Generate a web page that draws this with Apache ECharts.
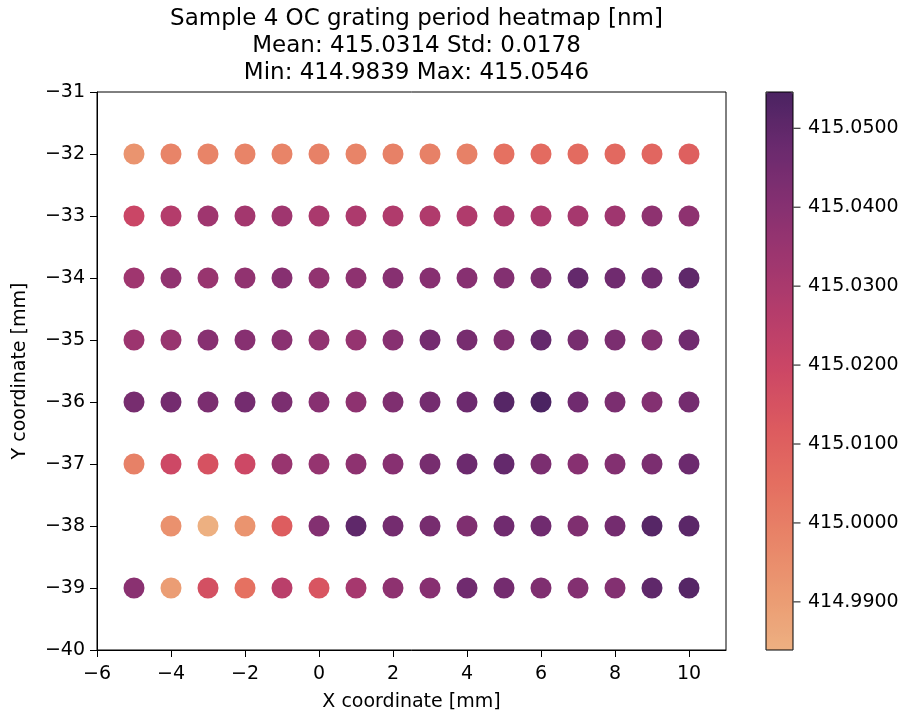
<!DOCTYPE html>
<html>
<head>
<meta charset="utf-8">
<script src="https://cdn.jsdelivr.net/npm/echarts@6/dist/echarts.min.js"></script>
<style>html,body{margin:0;padding:0;background:#fff}#chart{width:907px;height:717px}</style>
</head>
<body>
<div id="chart"></div>
<script>
const xCoords = [-5,-4,-3,-2,-1,0,1,2,3,4,5,6,7,8,9,10];
const yCoords = [-32,-33,-34,-35,-36,-37,-38,-39];
const periodY32 = [414.993,414.998,414.998,414.998,414.998,414.999,414.998,414.999,414.999,414.999,415.004,415.006,415.006,415.007,415.008,415.010];
const periodY33 = [415.020,415.027,415.033,415.032,415.033,415.030,415.029,415.028,415.028,415.028,415.030,415.029,415.031,415.033,415.038,415.038];
const periodY34 = [415.033,415.037,415.035,415.037,415.040,415.037,415.038,415.040,415.040,415.040,415.041,415.043,415.049,415.046,415.046,415.050];
const periodY35 = [415.034,415.035,415.040,415.040,415.039,415.037,415.036,415.040,415.045,415.044,415.042,415.049,415.044,415.043,415.041,415.046];
const periodY36 = [415.044,415.045,415.043,415.045,415.043,415.040,415.038,415.042,415.045,415.047,415.052,415.0546,415.046,415.043,415.041,415.045];
const periodY37 = [414.999,415.019,415.015,415.019,415.035,415.036,415.038,415.040,415.044,415.047,415.049,415.043,415.040,415.041,415.043,415.047];
const periodY38 = [null,414.994,414.9839,414.993,415.011,415.041,415.050,415.045,415.044,415.042,415.046,415.046,415.042,415.045,415.052,415.051];
const periodY39 = [415.039,414.990,415.016,415.004,415.025,415.014,415.031,415.038,415.040,415.046,415.045,415.042,415.041,415.041,415.050,415.052];
const periodRows = [periodY32,periodY33,periodY34,periodY35,periodY36,periodY37,periodY38,periodY39];
const colorbarTicks = [414.99,415.00,415.01,415.02,415.03,415.04,415.05];
const vMin = 414.9839, vMax = 415.0546;
const flareColors = ['#edb081','#eb9a72','#e88468','#e46e60','#dc5a5f','#cc4765','#b63d6b','#9e366f','#853071','#6a2a6e','#4b2362'];

const points = [];
periodRows.forEach((row, i) => {
  row.forEach((v, j) => {
    if (v !== null) points.push([xCoords[j], yCoords[i], v]);
  });
});
const tickMarks = colorbarTicks.map(v => [1, v]);

const FONT = 'DejaVu Sans';
const chart = echarts.init(document.getElementById('chart'), null, {renderer: 'canvas'});
chart.setOption({
  animation: false,
  backgroundColor: '#fff',
  textStyle: {fontFamily: FONT},
  title: {
    text: 'Sample 4 OC grating period heatmap [nm]\nMean: 415.0314 Std: 0.0178\nMin: 414.9839 Max: 415.0546',
    left: 411.5, top: 1, textAlign: 'center',
    textStyle: {fontFamily: FONT, fontSize: 23, fontWeight: 'normal', color: '#000', lineHeight: 27}
  },
  grid: [
    {left: 97, top: 92, width: 629, height: 559, show: true, borderColor: '#000', borderWidth: 1, backgroundColor: 'transparent'},
    {left: 766, top: 92, width: 27, height: 558, show: true, borderColor: '#000', borderWidth: 1, backgroundColor: 'transparent', z: 10}
  ],
  xAxis: [
    {gridIndex: 0, type: 'value', min: -6, max: 11, interval: 2,
     name: 'X coordinate [mm]', nameLocation: 'middle', nameGap: 43,
     nameTextStyle: {fontFamily: FONT, fontSize: 19, color: '#000'},
     axisLine: {show: true, onZero: false, lineStyle: {color: '#000'}},
     axisTick: {show: true, inside: false, length: 7, lineStyle: {color: '#000'}},
     axisLabel: {fontFamily: FONT, fontSize: 19, color: '#000', margin: 15,
       formatter: v => (v < 0 ? '\u2212' + Math.abs(v) : String(v)), showMaxLabel: false},
     splitLine: {show: false}},
    {gridIndex: 1, type: 'value', min: 0, max: 1, show: false}
  ],
  yAxis: [
    {gridIndex: 0, type: 'value', min: -40, max: -31, interval: 1,
     name: 'Y coordinate [mm]', nameLocation: 'middle', nameGap: 67, nameRotate: 90,
     nameTextStyle: {fontFamily: FONT, fontSize: 19, color: '#000'},
     axisLine: {show: true, onZero: false, lineStyle: {color: '#000'}},
     axisTick: {show: true, inside: false, length: 7, lineStyle: {color: '#000'}},
     axisLabel: {fontFamily: FONT, fontSize: 19, color: '#000', margin: 12,
       formatter: v => (v < 0 ? '\u2212' + Math.abs(v) : String(v))},
     splitLine: {show: false}},
    {gridIndex: 1, type: 'value', position: 'right', min: vMin, max: vMax, z: 10,
     axisLine: {show: false},
     axisTick: {show: false},
     axisLabel: {fontFamily: FONT, fontSize: 19, color: '#000', margin: 15, customValues: colorbarTicks,
       formatter: v => v.toFixed(4)},
     splitLine: {show: false}}
  ],
  visualMap: {
    type: 'continuous', min: vMin, max: vMax, dimension: 2, seriesIndex: 0,
    left: 766, top: 92, itemWidth: 27, itemHeight: 558, padding: 0,
    calculable: false, hoverLink: false, z: 1,
    inRange: {color: flareColors}
  },
  series: [
    {type: 'scatter', xAxisIndex: 0, yAxisIndex: 0, data: points, symbolSize: 21,
     itemStyle: {opacity: 1}},
    {type: 'scatter', xAxisIndex: 1, yAxisIndex: 1, data: tickMarks, symbol: 'rect',
     symbolSize: [7, 1.2], symbolOffset: [4, 0], silent: true, z: 20, clip: false,
     itemStyle: {color: '#000'}}
  ]
});
</script>
</body>
</html>
